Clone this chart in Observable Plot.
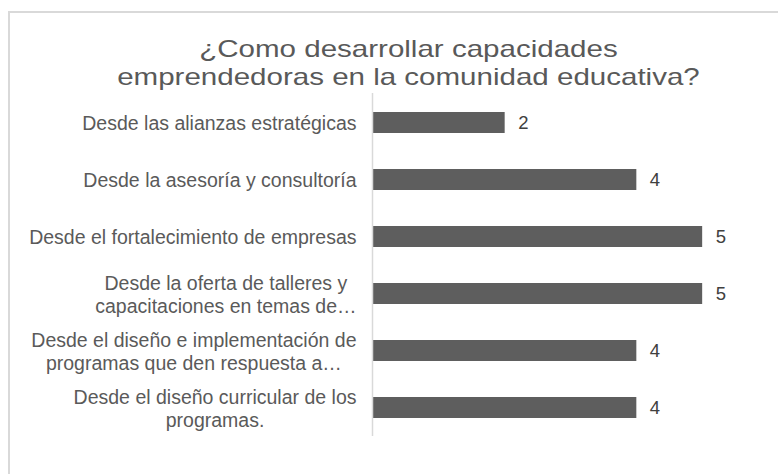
<!DOCTYPE html>
<html>
<head>
<meta charset="utf-8">
<script src="https://cdn.jsdelivr.net/npm/d3@7"></script>
<script src="https://cdn.jsdelivr.net/npm/@observablehq/plot@0.6"></script>
<style>
  html, body { margin: 0; padding: 0; background: #fff; }
  #wrap { position: relative; width: 778px; height: 474px; overflow: hidden; background: #fff; }
  #frame { position: absolute; left: 8px; top: 11px; width: 900px; height: 600px;
           border-top: 2px solid #d9d9d9; border-left: 2px solid #d9d9d9; box-sizing: border-box; }
  #title { position: absolute; left: 0; top: 35px; width: 816px; text-align: center;
           font-family: "Liberation Sans", Arial, sans-serif; font-size: 24px; line-height: 28px;
           color: #595959; transform: scaleX(1.23); transform-origin: 406px 0; }
  #chart { position: absolute; left: 0; top: 0; }
</style>
</head>
<body>
<div id="wrap">
  <div id="frame"></div>
  <div id="chart"></div>
  <div id="title">¿Como desarrollar capacidades<br>emprendedoras en la comunidad educativa?</div>
</div>
<script>
const categories = [
  "Desde las alianzas estratégicas",
  "Desde la asesoría y consultoría",
  "Desde el fortalecimiento de empresas",
  "Desde la oferta de talleres y\ncapacitaciones en temas de…",
  "Desde el diseño e implementación de\nprogramas que den respuesta a…",
  "Desde el diseño curricular de los\nprogramas."
];
const values = [2, 4, 5, 5, 4, 4];

const data = categories.map((c, i) => ({category: c, value: values[i]}));

const labelFont = 19.5;
const fontFamily = '"Liberation Sans", Arial, sans-serif';
const ctx = document.createElement("canvas").getContext("2d");
ctx.font = `${labelFont}px "Liberation Sans"`;
function blockWidth(s) {
  return d3.max(s.split("\n"), line => ctx.measureText(line).width);
}

const labelMarks = categories.map(c => Plot.text([c], {
  x: () => 0,
  y: d => d,
  text: d => d,
  textAnchor: "middle",
  dx: -(17 + blockWidth(c) / 2),
  lineHeight: 1.18,
  fontSize: labelFont,
  fill: "#5a5a5a"
}));

const plot = Plot.plot({
  width: 778,
  height: 474,
  marginTop: 93,
  marginBottom: 38,
  marginLeft: 373,
  marginRight: 10,
  style: {fontFamily: fontFamily, background: "transparent", overflow: "visible"},
  x: {domain: [0, 6], axis: null},
  y: {domain: categories, paddingInner: 0.64, paddingOuter: 0.32, axis: null},
  marks: [
    Plot.barX(data, {x: "value", y: "category", fill: "#5e5e5e"}),
    Plot.ruleX([0], {stroke: "#d9d9d9", strokeWidth: 1.5, dx: -1}),
    Plot.text(data, {x: "value", y: "category", text: d => String(d.value), dx: 13,
      textAnchor: "start", fontSize: 18.5, fill: "#404040"}),
    ...labelMarks
  ]
});
document.getElementById("chart").appendChild(plot);
</script>
</body>
</html>
